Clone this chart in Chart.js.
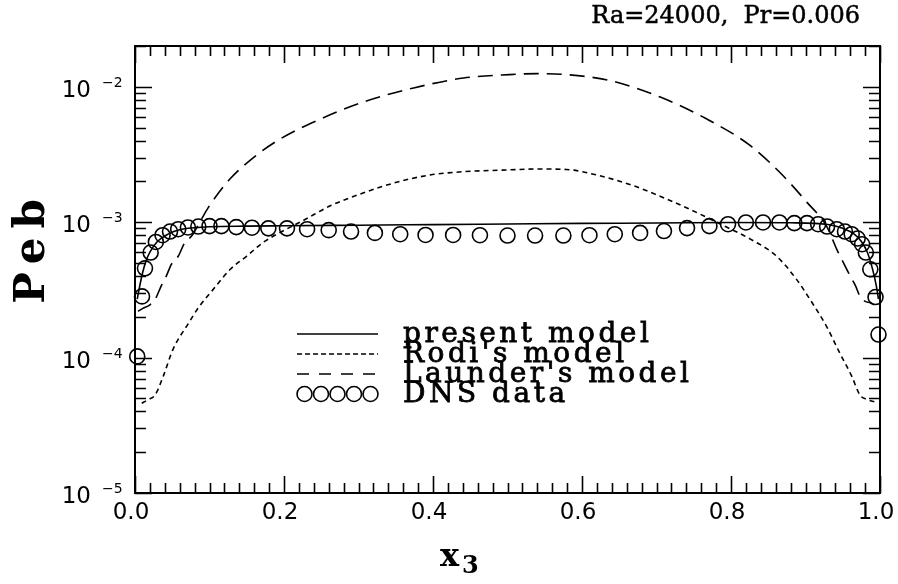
<!DOCTYPE html>
<html>
<head>
<meta charset="utf-8">
<script src="https://cdn.jsdelivr.net/npm/chart.js@4.4.1/dist/chart.umd.min.js"></script>
<style>
  body { margin: 0; background: #fff; }
  canvas { display: block; }
</style>
</head>
<body>
<canvas id="peb" width="898" height="584"></canvas>
<script>
// Données
const presentX = [0.003, 0.006, 0.010, 0.015, 0.020, 0.030, 0.045, 0.060, 0.080, 0.100, 0.150, 0.200, 0.300, 0.400, 0.500, 0.600, 0.700, 0.800, 0.880, 0.930, 0.950, 0.965, 0.975, 0.983, 0.990, 0.995, 0.998];
const presentY = [2.7e-4, 3.3e-4, 4.2e-4, 5.2e-4, 6.0e-4, 7.2e-4, 8.2e-4, 8.8e-4, 9.1e-4, 9.25e-4, 9.35e-4, 9.4e-4, 9.5e-4, 9.6e-4, 9.7e-4, 9.8e-4, 9.85e-4, 9.95e-4, 9.9e-4, 9.6e-4, 9.0e-4, 8.2e-4, 7.2e-4, 6.0e-4, 4.5e-4, 3.4e-4, 2.7e-4];

const rodiX = [0.009, 0.018, 0.027, 0.038, 0.051, 0.072, 0.085, 0.105, 0.128, 0.150, 0.172, 0.195, 0.226, 0.262, 0.306, 0.351, 0.396, 0.441, 0.490, 0.544, 0.579, 0.624, 0.669, 0.714, 0.758, 0.794, 0.826, 0.861, 0.888, 0.906, 0.928, 0.946, 0.962, 0.973, 0.983, 0.993];
const rodiY = [4.6e-5, 4.9e-5, 5.3e-5, 7.3e-5, 1.15e-4, 1.8e-4, 2.33e-4, 3.19e-4, 4.49e-4, 5.62e-4, 7.08e-4, 8.4e-4, 1.03e-3, 1.32e-3, 1.64e-3, 1.97e-3, 2.23e-3, 2.36e-3, 2.42e-3, 2.47e-3, 2.45e-3, 2.2e-3, 1.86e-3, 1.48e-3, 1.15e-3, 9.2e-4, 7.5e-4, 5.62e-4, 3.78e-4, 2.69e-4, 1.71e-4, 1.08e-4, 7.3e-5, 5.3e-5, 4.9e-5, 4.7e-5];

const launderX = [0.004, 0.010, 0.020, 0.027, 0.036, 0.042, 0.049, 0.058, 0.067, 0.076, 0.089, 0.101, 0.128, 0.159, 0.195, 0.244, 0.306, 0.374, 0.441, 0.503, 0.540, 0.579, 0.638, 0.705, 0.767, 0.826, 0.870, 0.902, 0.928, 0.942, 0.951, 0.960, 0.967, 0.973, 0.980, 0.987, 0.992];
const launderY = [2.2e-4, 2.3e-4, 2.45e-4, 2.69e-4, 3.46e-4, 4.0e-4, 4.9e-4, 5.6e-4, 7.1e-4, 7.9e-4, 1.05e-3, 1.35e-3, 2.1e-3, 3.0e-3, 4.12e-3, 5.62e-3, 7.7e-3, 9.8e-3, 1.16e-2, 1.23e-2, 1.25e-2, 1.23e-2, 1.11e-2, 8.4e-3, 5.8e-3, 3.67e-3, 2.2e-3, 1.4e-3, 9.4e-4, 6.3e-4, 5.0e-4, 4.0e-4, 3.4e-4, 2.84e-4, 2.6e-4, 2.54e-4, 2.45e-4];

const dnsX = [0.003, 0.0094, 0.0134, 0.021, 0.028, 0.037, 0.047, 0.058, 0.071, 0.085, 0.100, 0.116, 0.136, 0.157, 0.179, 0.204, 0.231, 0.260, 0.290, 0.322, 0.356, 0.390, 0.427, 0.463, 0.500, 0.537, 0.575, 0.610, 0.644, 0.678, 0.710, 0.741, 0.771, 0.796, 0.820, 0.843, 0.865, 0.885, 0.902, 0.917, 0.929, 0.942, 0.953, 0.962, 0.970, 0.976, 0.981, 0.987, 0.994, 0.998];
const dnsY = [1.02e-4, 2.83e-4, 4.56e-4, 5.97e-4, 7.14e-4, 8.01e-4, 8.53e-4, 8.87e-4, 9.14e-4, 9.29e-4, 9.35e-4, 9.35e-4, 9.2e-4, 9.1e-4, 9.0e-4, 9.0e-4, 8.87e-4, 8.73e-4, 8.53e-4, 8.33e-4, 8.15e-4, 8.05e-4, 8.05e-4, 8.01e-4, 7.97e-4, 7.97e-4, 7.97e-4, 8.01e-4, 8.15e-4, 8.33e-4, 8.6e-4, 9.04e-4, 9.35e-4, 9.66e-4, 9.95e-4, 9.95e-4, 9.95e-4, 9.84e-4, 9.84e-4, 9.66e-4, 9.29e-4, 8.87e-4, 8.53e-4, 8.15e-4, 7.57e-4, 6.87e-4, 5.97e-4, 4.49e-4, 2.80e-4, 1.48e-4];

// Axes et textes
const xTickValues = [0, 0.2, 0.4, 0.6, 0.8, 1.0];
const xTickLabels = ['0.0', '0.2', '0.4', '0.6', '0.8', '1.0'];
const yDecades = [-5, -4, -3, -2];
const yMin = 1e-5, yMax = 2e-2;
const legendLabels = ['present model', "Rodi's model", "Launder's model", 'DNS data'];
const titleText = 'Ra=24000,  Pr=0.006';

const pts = (xs, ys) => xs.map((x, i) => ({ x: x, y: ys[i] }));

const lineStyle = (dash) => ({
    showLine: true,
    pointRadius: 0,
    borderColor: '#000',
    borderWidth: 1.6,
    borderDash: dash,
    fill: false,
    cubicInterpolationMode: 'monotone',
    clip: false
});

// Tracé des graduations, étiquettes et légende
const decorations = {
    id: 'decorations',
    afterDraw(chart) {
        const ctx = chart.ctx;
        const xs = chart.scales.x, ys = chart.scales.y;
        const a = chart.chartArea;
        ctx.save();
        ctx.strokeStyle = '#000';
        ctx.fillStyle = '#000';
        ctx.lineWidth = 2;
        ctx.strokeRect(a.left, a.top, a.right - a.left, a.bottom - a.top);

        ctx.lineWidth = 1.6;
        ctx.beginPath();
        for (let i = 0; i <= 50; i++) {
            const px = Math.round(xs.getPixelForValue(i / 50)) + 0.5;
            const len = i % 10 === 0 ? 17 : 10;
            ctx.moveTo(px, a.bottom); ctx.lineTo(px, a.bottom - len);
            ctx.moveTo(px, a.top); ctx.lineTo(px, a.top + len);
        }
        yDecades.forEach(d => {
            for (let m = 1; m <= 9; m++) {
                const v = m * Math.pow(10, d);
                if (v > yMax * 1.0001) break;
                const py = Math.round(ys.getPixelForValue(v)) + 0.5;
                const len = m === 1 ? 17 : 11;
                ctx.moveTo(a.left, py); ctx.lineTo(a.left + len, py);
                ctx.moveTo(a.right, py); ctx.lineTo(a.right - len, py);
            }
        });
        ctx.stroke();

        // étiquettes des axes
        ctx.font = '23px "DejaVu Sans"';
        ctx.textAlign = 'center';
        ctx.textBaseline = 'top';
        xTickValues.forEach((v, i) => {
            ctx.fillText(xTickLabels[i], xs.getPixelForValue(v) - 4, a.bottom + 9);
        });
        yDecades.forEach(d => {
            const py = ys.getPixelForValue(Math.pow(10, d));
            ctx.font = '23px "DejaVu Sans"';
            ctx.textAlign = 'right';
            ctx.textBaseline = 'middle';
            ctx.fillText('10', 91, py + 4);
            ctx.font = '14px "DejaVu Sans"';
            ctx.textAlign = 'left';
            ctx.textBaseline = 'alphabetic';
            ctx.fillText('\u2212' + Math.abs(d), 102, py);
        });

        // titre
        ctx.font = '24px "DejaVu Serif"';
        ctx.textAlign = 'right';
        ctx.textBaseline = 'alphabetic';
        ctx.lineWidth = 0.5;
        ctx.fillText(titleText, 860, 23);
        ctx.strokeText(titleText, 860, 23);

        // titre de l'axe y
        ctx.save();
        ctx.translate(44, 251);
        ctx.rotate(-Math.PI / 2);
        ctx.font = 'bold 42px "DejaVu Serif"';
        ctx.letterSpacing = '9px';
        ctx.textAlign = 'center';
        ctx.fillText('Peb', 4, 0);
        ctx.restore();

        // titre de l'axe x
        ctx.font = 'bold 32px "DejaVu Serif"';
        ctx.textAlign = 'left';
        ctx.fillText('x', 440, 566);
        ctx.font = 'bold 24px "DejaVu Serif"';
        ctx.fillText('3', 462, 573);

        // légende
        const lx0 = 297, lx1 = 378, rows = [334, 354, 374, 394];
        const dashes = [[], [5, 3], [12, 10]];
        ctx.lineWidth = 1.6;
        dashes.forEach((dsh, i) => {
            ctx.setLineDash(dsh);
            ctx.beginPath();
            ctx.moveTo(lx0, rows[i]); ctx.lineTo(lx1, rows[i]);
            ctx.stroke();
        });
        ctx.setLineDash([]);
        for (let k = 0; k < 5; k++) {
            ctx.beginPath();
            ctx.arc(lx0 + 7.5 + k * 16.5, rows[3], 7.5, 0, Math.PI * 2);
            ctx.stroke();
        }
        ctx.font = '28px "DejaVu Serif"';
        ctx.letterSpacing = '3.5px';
        ctx.textAlign = 'left';
        ctx.textBaseline = 'middle';
        ctx.lineWidth = 0.8;
        legendLabels.forEach((t, i) => {
            ctx.fillText(t, 403, rows[i] + 1);
            ctx.strokeText(t, 403, rows[i] + 1);
        });
        ctx.restore();
    }
};

new Chart(document.getElementById('peb'), {
    type: 'scatter',
    data: {
        datasets: [
            Object.assign({ label: legendLabels[0], data: pts(presentX, presentY) }, lineStyle([])),
            Object.assign({ label: legendLabels[1], data: pts(rodiX, rodiY) }, lineStyle([5, 4])),
            Object.assign({ label: legendLabels[2], data: pts(launderX, launderY) }, lineStyle([15, 8])),
            {
                label: legendLabels[3],
                data: pts(dnsX, dnsY),
                showLine: false,
                pointStyle: 'circle',
                pointRadius: 7.5,
                pointBorderWidth: 1.6,
                pointBorderColor: '#000',
                pointBackgroundColor: 'rgba(0,0,0,0)',
                clip: false
            }
        ]
    },
    options: {
        responsive: false,
        animation: false,
        layout: { padding: { left: 135, right: 18, top: 46, bottom: 91 } },
        plugins: { legend: { display: false }, tooltip: { enabled: false } },
        scales: {
            x: { type: 'linear', min: 0, max: 1, display: false },
            y: { type: 'logarithmic', min: yMin, max: yMax, display: false }
        }
    },
    plugins: [decorations]
});
</script>
</body>
</html>
